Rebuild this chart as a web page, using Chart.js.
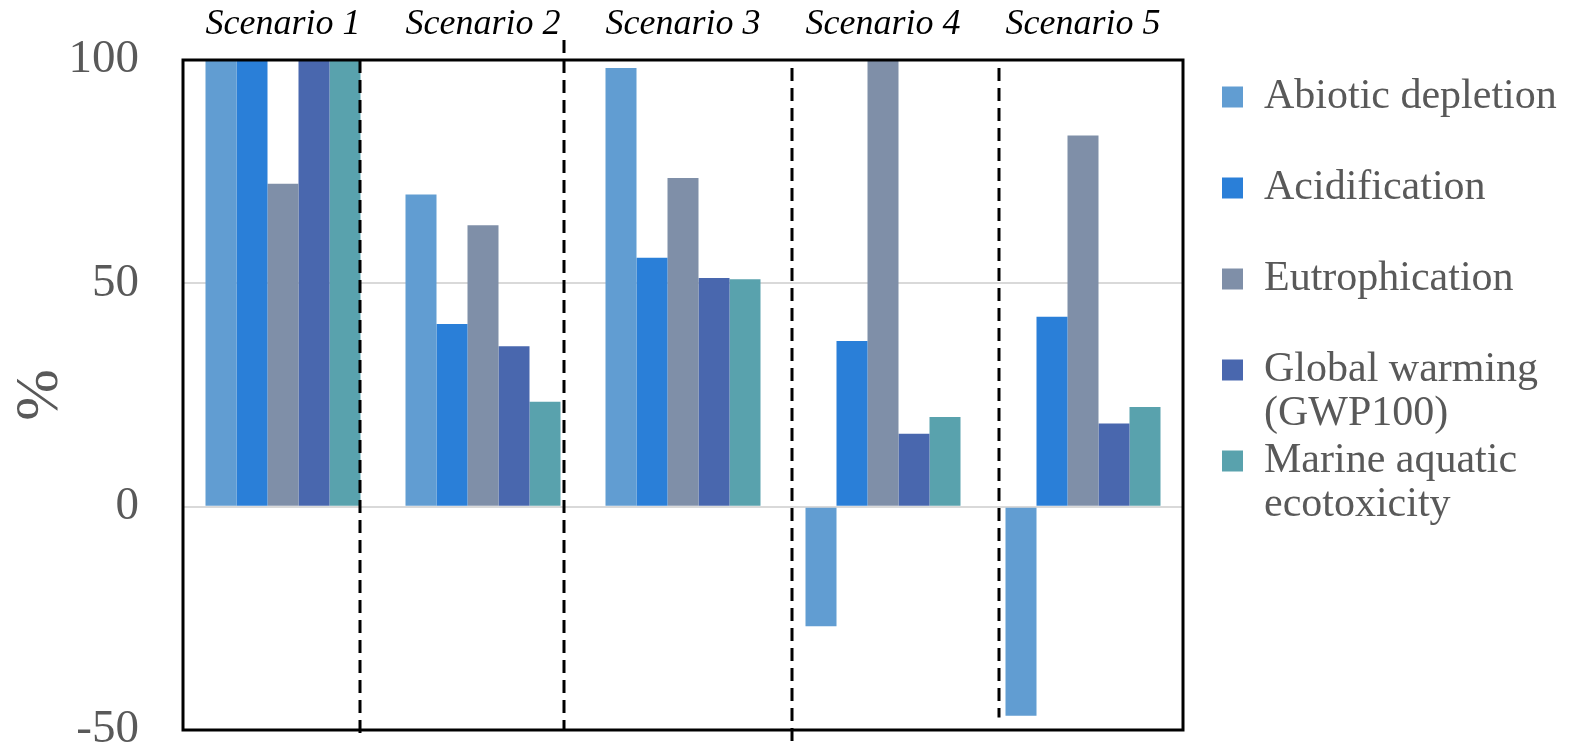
<!DOCTYPE html>
<html><head><meta charset="utf-8">
<script src="https://cdn.jsdelivr.net/npm/chart.js@4.4.1/dist/chart.umd.min.js"></script>
<style>html,body{margin:0;padding:0;background:#fff;overflow:hidden;}</style>
</head><body>
<canvas id="c" width="1575" height="750"></canvas>
<script>
const categories = ['Scenario 1', 'Scenario 2', 'Scenario 3', 'Scenario 4', 'Scenario 5'];
const seriesNames = ['Abiotic depletion', 'Acidification', 'Eutrophication', 'Global warming', 'Marine aquatic'];
const seriesNameSecondLines = ['', '', '', '(GWP100)', 'ecotoxicity'];
const abioticDepletion = [100, 69.9, 98.2, -26.8, -46.8];
const acidification = [100, 40.9, 55.7, 37.1, 42.5];
const eutrophication = [72.3, 63.0, 73.6, 100, 83.1];
const globalWarming = [100, 35.9, 51.2, 16.3, 18.6];
const marineEcotoxicity = [100, 23.5, 50.9, 20.1, 22.3];
const yTicks = [-50, 0, 50, 100];
const seriesColors = ['#619DD2', '#2A7FD8', '#7F8FA8', '#4967AE', '#59A2AD'];
// dashed separators (category-axis position, top value, bottom value)
const separatorX = [0.385, 1.405, 2.545, 3.58];
const separatorTop = [100, 104.5, 98.2, 98.2];
const separatorBottom = [-50.8, -50, -53.4, -47.2];

const seriesValues = [abioticDepletion, acidification, eutrophication, globalWarming, marineEcotoxicity];
const SERIF = '"Liberation Serif", "Times New Roman", serif';
const LEGEND_FONT = 42, LEGEND_BOX = 21, LEGEND_PAD = 49;

const frameAndSeparators = {
  id: 'frameAndSeparators',
  afterDatasetsDraw(chart) {
    const {ctx, chartArea: a} = chart;
    ctx.save();
    ctx.strokeStyle = '#000';
    ctx.lineWidth = 3;
    ctx.strokeRect(a.left, a.top, a.right - a.left, a.bottom - a.top);
    ctx.restore();
  },
  afterDraw(chart) {
    const {ctx, scales: {x, y}} = chart;
    ctx.save();
    ctx.strokeStyle = '#000';
    ctx.lineWidth = 3;
    ctx.setLineDash([13, 7]);
    separatorX.forEach((v, i) => {
      const px = x.getPixelForValue(v);
      ctx.beginPath();
      ctx.moveTo(px, y.getPixelForValue(separatorTop[i]));
      ctx.lineTo(px, y.getPixelForValue(separatorBottom[i]));
      ctx.stroke();
    });
    ctx.restore();
  }
};

const legendTweaks = {
  id: 'legendTweaks',
  beforeLayout(chart) {
    const lg = chart.legend;
    if (lg && !lg._fixedFit) {
      const orig = lg.fit.bind(lg);
      lg.fit = function () { orig(); this.width = 392; };
      lg._fixedFit = true;
    }
  },
  afterLayout(chart) {
    const lg = chart.legend;
    if (lg) { lg.left -= 10; lg.right -= 10; }
  },
  afterDraw(chart) {
    const lg = chart.legend;
    if (!lg || !lg.legendHitBoxes) return;
    const ctx = chart.ctx;
    ctx.save();
    ctx.font = LEGEND_FONT + 'px ' + SERIF;
    ctx.fillStyle = '#595959';
    ctx.textBaseline = 'middle';
    ctx.textAlign = 'left';
    lg.legendHitBoxes.forEach((hb, i) => {
      const t = seriesNameSecondLines[i];
      if (!t) return;
      ctx.fillText(t, hb.left + LEGEND_BOX + LEGEND_FONT / 2, hb.top + LEGEND_FONT / 2 + 44);
    });
    ctx.restore();
  }
};

new Chart(document.getElementById('c'), {
  type: 'bar',
  data: {
    labels: categories,
    datasets: seriesNames.map((name, i) => ({
      label: name,
      data: seriesValues[i],
      backgroundColor: seriesColors[i],
      borderWidth: 0,
      categoryPercentage: 0.775,
      barPercentage: 1.0
    }))
  },
  options: {
    responsive: false,
    animation: false,
    devicePixelRatio: 1,
    layout: {padding: {top: 0, left: 0, right: 0, bottom: 20}},
    plugins: {
      tooltip: {enabled: false},
      legend: {
        position: 'right',
        align: 'start',
        title: {display: true, text: ' ', padding: 0, font: {size: 27, lineHeight: 1}},
        labels: {
          font: {family: SERIF, size: LEGEND_FONT},
          color: '#595959',
          boxWidth: LEGEND_BOX,
          boxHeight: LEGEND_BOX,
          padding: LEGEND_PAD
        }
      }
    },
    scales: {
      x: {
        type: 'category',
        position: 'top',
        grid: {display: false, drawTicks: false},
        border: {display: false},
        ticks: {
          font: {family: SERIF, size: 36, style: 'italic'},
          color: '#000',
          padding: 14,
          maxRotation: 0,
          autoSkip: false
        },
        afterFit(s) { s.height = 60; s.paddingLeft = 0; s.paddingRight = 0; }
      },
      y: {
        min: -50,
        max: 100,
        afterBuildTicks(s) { s.ticks = yTicks.map(v => ({value: v})); },
        grid: {
          color: c => (c.tick && (c.tick.value === 0 || c.tick.value === 50)) ? '#d9d9d9' : 'rgba(0,0,0,0)',
          lineWidth: 2,
          drawTicks: false
        },
        border: {display: false},
        ticks: {
          font: {family: SERIF, size: 47},
          color: '#595959',
          padding: 44
        },
        title: {
          display: true,
          text: '%',
          font: {family: SERIF, size: 62, lineHeight: 1},
          color: '#595959',
          padding: {top: 10, bottom: 0}
        },
        afterFit(s) { s.width = 183; s.paddingTop = 0; s.paddingBottom = 0; }
      }
    }
  },
  plugins: [frameAndSeparators, legendTweaks]
});
</script>
</body></html>
